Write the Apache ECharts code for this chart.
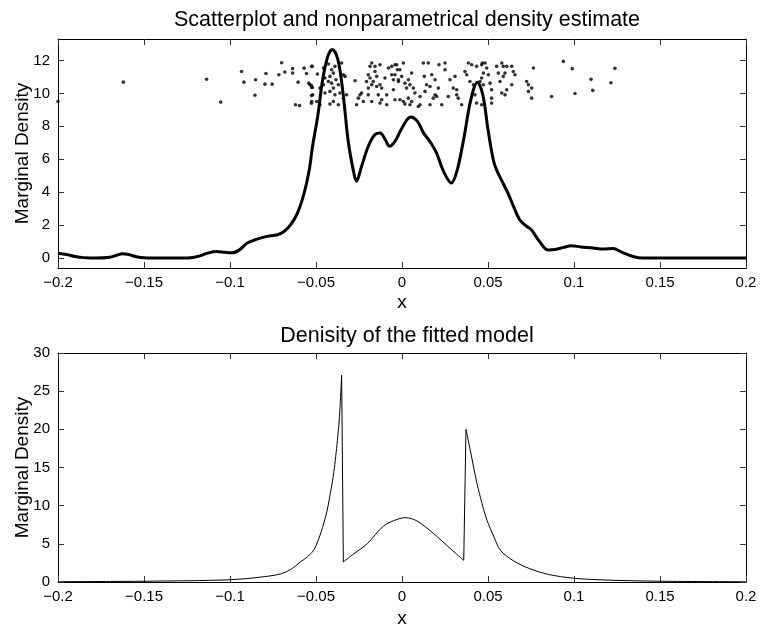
<!DOCTYPE html>
<html>
<head>
<meta charset="utf-8">
<script src="https://cdn.jsdelivr.net/npm/echarts@6/dist/echarts.min.js"></script>
<style>html,body{margin:0;padding:0;background:#fff;}#c{width:760px;height:625px;}</style>
</head>
<body>
<div id="c"></div>
<script>
// ---- Top panel: nonparametric density estimate ----
var kdeX = [-0.2,-0.195,-0.19,-0.185,-0.178,-0.17,-0.166,-0.1625,-0.159,-0.155,-0.15,-0.14,-0.13,-0.123,-0.118,-0.113,-0.108,-0.103,-0.099,-0.0945,-0.0902,-0.0843,-0.0784,-0.0725,-0.0686,-0.0647,-0.0608,-0.0569,-0.0539,-0.052,-0.049,-0.0461,-0.0431,-0.0405,-0.0373,-0.0343,-0.0314,-0.0284,-0.0265,-0.0235,-0.0196,-0.0157,-0.0127,-0.0098,-0.0072,-0.004,0.0,0.005,0.009,0.0125,0.0161,0.020,0.024,0.0287,0.032,0.036,0.040,0.0438,0.047,0.050,0.053,0.0548,0.058,0.0616,0.065,0.0684,0.0722,0.0752,0.080,0.0849,0.089,0.094,0.0984,0.104,0.111,0.117,0.1227,0.128,0.1343,0.14,0.2];
var kdeY = [0.3,0.22,0.1,0.03,0.0,0.05,0.17,0.27,0.22,0.1,0.02,0,0,0.02,0.12,0.3,0.4,0.35,0.32,0.5,0.9,1.15,1.32,1.42,1.62,2.03,2.73,3.95,5.37,6.79,8.61,10.85,12.26,12.67,12.06,10.03,7.2,5.37,4.66,5.57,6.79,7.5,7.6,7.2,6.79,7.1,7.9,8.57,8.3,7.6,7.1,6.4,5.3,4.56,5.3,7.3,9.6,10.68,9.9,7.8,6.0,5.4,4.7,3.95,3.1,2.33,1.95,1.72,1.0,0.5,0.52,0.65,0.75,0.68,0.62,0.55,0.58,0.35,0.1,0.0,0.0];

// scatter of observations (jittered vertically)
var obsX = [-0.2,-0.162,-0.1136,-0.1054,
-0.0933,-0.0919,-0.0851,-0.0855,-0.0791,-0.0797,-0.0755,-0.0700,-0.0716,-0.0681,-0.0636,-0.0636,-0.0604,-0.0569,-0.0555,-0.0522,-0.0542,-0.0526,-0.0522,-0.0526,-0.0619,-0.0596,-0.0526,
-0.0525,-0.0492,-0.0535,-0.0525,-0.0519,-0.0525,-0.0496,-0.0477,-0.0457,-0.0428,-0.0409,-0.0390,-0.0399,-0.0419,-0.0448,-0.0428,-0.0409,-0.0384,-0.0370,-0.0399,-0.0419,-0.0448,-0.0390,-0.0361,-0.0399,-0.0419,-0.0370,-0.0351,-0.0341,-0.0331,-0.0322,-0.0341,-0.0457,-0.0477,-0.0273,-0.0244,-0.0235,-0.0254,-0.0225,-0.0264,-0.0186,-0.0176,-0.0157,-0.0128,-0.0157,-0.0196,-0.0186,-0.0206,-0.0167,-0.0176,-0.0196,-0.0147,-0.0128,-0.0118,-0.0079,-0.0060,-0.0041,-0.0027,-0.0060,-0.0050,-0.0099,-0.0089,-0.0118,-0.0138,-0.0128,-0.0089,-0.0041,-0.0050,-0.0196,-0.0176,-0.0147,-0.0021,
-0.0031,0.0008,-0.0012,-0.0041,-0.0002,-0.0021,0.0017,0.0037,0.0056,0.0046,0.0066,0.0027,-0.0012,0.0008,0.0037,0.0056,0.0046,0.0017,0.0095,0.0075,0.0105,0.0124,0.0153,0.0130,0.0143,0.0163,0.0134,0.0173,0.0192,0.0192,0.0202,0.0182,0.0211,0.0215,0.0250,0.0250,0.0279,0.0308,0.0298,0.0318,0.0269,0.0318,0.0327,0.0163,0.0366,0.0376,0.0386,0.0405,0.0434,0.0467,0.0395,0.0415,0.0454,0.0473,0.0424,0.0347,0.0434,0.0463,0.0105,0.0231,
0.0463,0.0483,0.0492,0.0473,0.0502,0.0463,0.0512,0.0521,0.0521,0.0521,0.0550,0.0580,0.0589,0.0609,0.0638,0.0560,0.0589,0.0599,0.0657,0.0647,0.0570,0.0580,0.0599,0.0609,0.0638,0.0764,0.0725,0.0735,0.0754,0.0735,0.0754,0.0870,0.0938,
0.0990,0.1006,0.1099,0.1109,0.1215,0.1238];
var obsY = [9.5,10.68,10.86,9.47,
11.33,10.68,10.83,9.89,11.21,10.56,10.56,11.86,11.13,11.29,11.50,11.23,10.68,11.53,11.21,11.64,10.62,10.48,10.36,9.87,9.31,9.26,9.40,
11.64,11.17,10.52,10.36,9.91,9.51,9.51,9.31,11.54,11.78,11.43,11.64,11.23,11.03,10.93,10.72,10.62,10.83,10.52,10.32,10.12,10.02,9.91,10.02,9.51,9.35,9.31,11.84,11.13,11.03,9.91,9.71,10.52,10.32,10.77,9.91,10.02,9.71,9.51,9.31,11.64,11.84,11.64,11.74,11.33,11.13,10.93,10.72,10.72,10.52,10.32,10.42,10.52,10.32,11.54,11.64,11.74,11.43,11.13,10.83,10.93,9.91,9.61,9.91,9.41,9.31,9.61,10.22,9.91,9.51,11.03,10.72,
11.74,11.84,11.43,11.13,11.03,10.83,10.62,10.83,11.23,10.52,10.32,10.32,9.61,9.51,9.71,9.51,9.31,9.35,9.20,10.02,9.81,11.84,11.84,11.03,10.52,10.42,10.12,11.13,10.83,9.91,9.81,9.71,10.32,11.74,11.84,11.43,10.83,11.03,10.32,10.22,9.81,9.91,9.71,9.31,11.33,11.13,11.84,11.74,11.64,11.84,10.72,10.52,10.72,10.52,9.91,9.31,9.41,9.31,9.31,9.31,
11.74,11.84,11.54,11.23,11.13,10.93,10.62,10.22,9.71,9.41,11.64,11.84,11.64,11.64,11.64,11.23,11.03,11.23,11.13,11.33,10.72,10.02,9.91,10.22,10.52,11.54,10.72,10.52,10.32,10.12,9.71,9.81,11.94,
11.50,9.99,10.85,10.18,10.64,11.52];

// ---- Bottom panel: density of the fitted model ----
var fitX = [-0.2,-0.17,-0.15,-0.13,-0.12,-0.11,-0.1,-0.09,-0.08,-0.075,-0.07,-0.065,-0.0591,-0.055,-0.0514,-0.0485,-0.0456,-0.0435,-0.0417,-0.04,-0.0388,-0.0378,-0.0368,-0.036,-0.0351,
-0.0341,-0.028,-0.0203,-0.0107,-0.0029,0.0019,0.0087,0.0184,0.0281,0.0359,
0.0372,0.0397,0.0436,0.0465,0.0494,0.0535,0.0572,0.065,0.0742,0.085,0.0994,0.12,0.15,0.2];
var fitY = [0.04,0.07,0.1,0.15,0.18,0.23,0.3,0.45,0.7,0.85,1.1,1.6,2.62,3.3,4.15,5.6,7.6,9.4,11.6,13.8,15.9,18.0,20.3,23.0,27.1,
2.62,3.7,5.0,7.34,8.2,8.43,8.0,6.34,4.37,2.84,
20.0,17.25,12.9,10.3,8.1,5.9,4.15,2.75,1.76,1.0,0.5,0.25,0.1,0.03];
// the fitted density has two jumps: the curve is drawn piecewise between them
var fitBreaks = [24, 25, 34, 35];

// ---- tick labels ----
var xTicks = [-0.2,-0.15,-0.1,-0.05,0,0.05,0.1,0.15,0.2];
var yTicksTop = [0,2,4,6,8,10,12];
var yTicksBottom = [0,5,10,15,20,25,30];

function zip(a, b, from, to) {
  var r = []; from = from || 0; to = (to === undefined) ? a.length - 1 : to;
  for (var i = from; i <= to; i++) r.push([a[i], b[i]]); return r;
}
function fmt(v) { return (v < 0 ? '\u2212' : '') + String(Math.abs(v)); }

var FONT = "'Liberation Sans', Arial, Helvetica, sans-serif";
var AX = '#000';

function xAx(grid, ticks, showLabels, pos, gap) {
  return {
    type: 'value', gridIndex: grid, min: -0.2, max: 0.2, position: pos,
    name: showLabels ? 'x' : '', nameLocation: 'middle', nameGap: gap,
    nameTextStyle: { fontFamily: FONT, fontSize: 19, color: '#000' },
    axisLine: { onZero: false, lineStyle: { color: AX, width: 1 } },
    axisTick: { inside: true, length: 6, customValues: ticks, lineStyle: { color: '#333' } },
    axisLabel: { show: showLabels, customValues: ticks, formatter: fmt, fontFamily: FONT, fontSize: 15, color: '#000', margin: 7, hideOverlap: false, showMinLabel: true, showMaxLabel: true },
    splitLine: { show: false }
  };
}
function yAx(grid, min, max, ticks, showLabels, pos) {
  return {
    type: 'value', gridIndex: grid, min: min, max: max, position: pos,
    name: showLabels ? 'Marginal Density' : '', nameLocation: 'middle', nameGap: 26, nameMoveOverlap: false,
    nameTextStyle: { fontFamily: FONT, fontSize: 19, color: '#000' },
    axisLine: { onZero: false, lineStyle: { color: AX, width: 1 } },
    axisTick: { inside: true, length: 6, customValues: ticks, lineStyle: { color: '#333' } },
    axisLabel: { show: showLabels, customValues: ticks, formatter: fmt, fontFamily: FONT, fontSize: 15, color: '#000', margin: 8, showMinLabel: true, showMaxLabel: true },
    splitLine: { show: false }
  };
}

var fitLine = { color: '#000', width: 1 };
function fitSeries(from, to, smooth) {
  return { type: 'line', xAxisIndex: 2, yAxisIndex: 2, data: zip(fitX, fitY, from, to), showSymbol: false,
    smooth: smooth, lineStyle: fitLine };
}

var chart = echarts.init(document.getElementById('c'), null, { renderer: 'canvas' });
chart.setOption({
  animation: false,
  backgroundColor: '#fff',
  title: [
    { text: 'Scatterplot and nonparametrical density estimate', left: 402, top: 4, textAlign: 'center',
      textStyle: { fontFamily: FONT, fontSize: 21.5, fontWeight: 'normal', color: '#000' } },
    { text: 'Denisity of the fitted model', left: 402, top: 320, textAlign: 'center',
      textStyle: { fontFamily: FONT, fontSize: 21.5, fontWeight: 'normal', color: '#000' } }
  ],
  grid: [
    { left: 58, right: 14, top: 39, height: 229, outerBoundsMode: 'none', containLabel: false },
    { left: 58, right: 14, top: 353, height: 229, outerBoundsMode: 'none', containLabel: false }
  ],
  xAxis: [
    xAx(0, xTicks, true, 'bottom', 25),
    xAx(0, xTicks, false, 'top', 25),
    xAx(1, xTicks, true, 'bottom', 27),
    xAx(1, xTicks, false, 'top', 27)
  ],
  yAxis: [
    yAx(0, -0.6, 13.3, yTicksTop, true, 'left'),
    yAx(0, -0.6, 13.3, yTicksTop, false, 'right'),
    yAx(1, 0, 30, yTicksBottom, true, 'left'),
    yAx(1, 0, 30, yTicksBottom, false, 'right')
  ],
  series: [
    { type: 'scatter', xAxisIndex: 0, yAxisIndex: 0, data: zip(obsX, obsY), symbol: 'circle', symbolSize: 3.6,
      itemStyle: { color: '#000' }, z: 3 },
    { type: 'line', xAxisIndex: 0, yAxisIndex: 0, data: zip(kdeX, kdeY), showSymbol: false, smooth: 0.35,
      lineStyle: { color: '#000', width: 3 }, z: 4 },
    fitSeries(0, fitBreaks[0], 0.3),
    fitSeries(fitBreaks[0], fitBreaks[1], false),
    fitSeries(fitBreaks[1], fitBreaks[2], 0.3),
    fitSeries(fitBreaks[2], fitBreaks[3], false),
    fitSeries(fitBreaks[3], fitX.length - 1, 0.3)
  ]
});
</script>
</body>
</html>
